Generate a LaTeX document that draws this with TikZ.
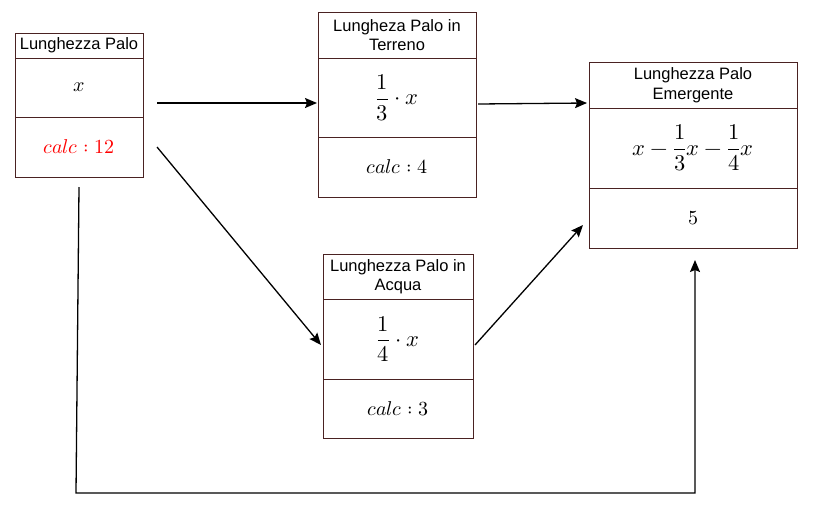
\documentclass[tikz,border=0pt]{standalone}
\usepackage{fontspec}
\setmainfont{Liberation Sans}
\usepackage{unicode-math}
\setmathfont{Latin Modern Math}
\usetikzlibrary{positioning,arrows.meta}
\definecolor{boxline}{HTML}{4A2222}
\tikzset{
  cell/.style={draw=boxline, line width=1pt, rectangle, anchor=north west,
    inner sep=2pt, outer sep=0pt, align=center},
  ttl/.style={cell, font=\fontsize{16.5}{19.5}\selectfont},
  mth/.style={cell, font=\fontsize{20}{24}\selectfont},
  frc/.style={cell, font=\fontsize{22.5}{27}\selectfont},
  arr/.style={line width=1.3pt, -{Stealth[length=12pt,width=10pt,inset=2pt]}},
}
\begin{document}
\begin{tikzpicture}[x=1pt,y=-1pt]
    \useasboundingbox (0,0) rectangle (813,520);

    % Lunghezza Palo
    \node[ttl, minimum width=128, minimum height=25] (a1) at (15,33) {Lunghezza Palo};
    \node[mth, minimum width=128, minimum height=59] (a2) at (a1.south west) {$x$};
    \node[mth, minimum width=128, minimum height=60, text=red] (a3) at (a2.south west) {$calc: 12$};

    % in Terreno
    \node[ttl, minimum width=158, minimum height=46] (b1) at (318,12) {Lungheza Palo in\\Terreno};
    \node[frc, minimum width=158, minimum height=79] (b2) at (b1.south west) {$\dfrac{1}{3}\cdot x$};
    \node[mth, minimum width=158, minimum height=60] (b3) at (b2.south west) {$calc: 4$};

    % Emergente
    \node[ttl, minimum width=208, minimum height=46] (c1) at (589,62) {Lunghezza Palo\\Emergente};
    \node[frc, minimum width=208, minimum height=80] (c2) at (c1.south west) {$x-\dfrac{1}{3}x-\dfrac{1}{4}x$};
    \node[mth, minimum width=208, minimum height=60] (c3) at (c2.south west) {$5$};

    % in Acqua
    \node[ttl, minimum width=150, minimum height=45] (d1) at (323,254) {Lunghezza Palo in\\Acqua};
    \node[frc, minimum width=150, minimum height=80] (d2) at (d1.south west) {$\dfrac{1}{4}\cdot x$};
    \node[mth, minimum width=150, minimum height=59] (d3) at (d2.south west) {$calc: 3$};

    % arrow ends
    \coordinate (p1) at (157,103);
    \coordinate (p2) at (317,103);
    \coordinate (p3) at (157,147);
    \coordinate (p4) at (321,345);
    \coordinate (p5) at (478,104);
    \coordinate (p6) at (587,103);
    \coordinate (p7) at (475,345);
    \coordinate (p8) at (583,225);
    \coordinate (p9) at (79,187);
    \coordinate (p10) at (695,260);

    \draw[arr] (p1) -- (p2);
    \draw[arr] (p3) -- (p4);
    \draw[arr] (p5) -- (p6);
    \draw[arr] (p7) -- (p8);
    \draw[arr] (p9) -- (76,493) -- (695,493) -- (p10);
\end{tikzpicture}
\end{document}
